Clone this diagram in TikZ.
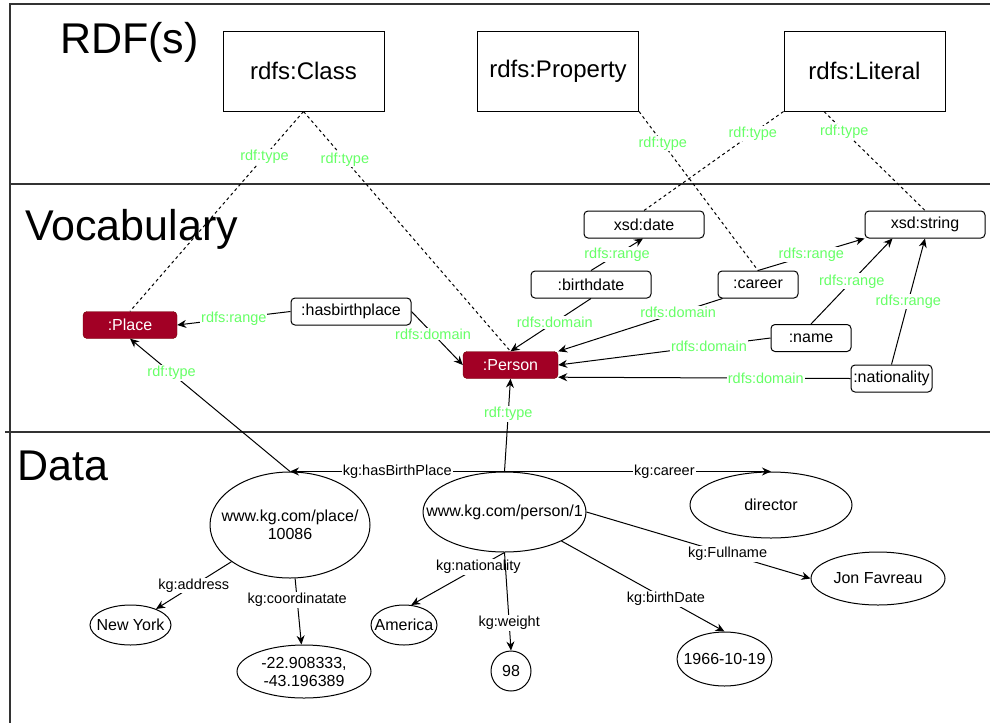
\documentclass[tikz,border=0pt]{standalone}
\usepackage{fontspec}
\setmainfont{Liberation Sans}
\usetikzlibrary{shapes.geometric,arrows.meta,calc}

\definecolor{crimson}{HTML}{A20025}
\definecolor{crimsonedge}{HTML}{6F0000}
\definecolor{lblgreen}{HTML}{66FF66}
\definecolor{framegray}{HTML}{333333}

\newcommand\fsz[2]{\fontsize{#1}{#2}\selectfont}

\tikzset{
  frameline/.style={draw=framegray, line width=1.1pt},
  heading/.style={font=\fsz{43}{48}, anchor=base west, inner sep=0pt},
  bigbox/.style={draw, line width=1pt, minimum width=161pt, minimum height=80pt,
                 font=\fsz{24}{28}, inner sep=0pt},
  term/.style={draw, fill=white, rounded corners=4pt, line width=1pt, minimum height=27pt,
               font=\fsz{16}{18}, inner sep=1pt},
  klass/.style={fill=crimson, draw=crimsonedge, text=white, rounded corners=4pt,
                minimum height=27pt, font=\fsz{16}{18}, inner sep=1pt},
  ent/.style={ellipse, draw, line width=1pt, inner sep=0pt},
  enttext/.style={font=\fsz{16}{18}, align=center, inner sep=0pt},
  link/.style={line width=1pt, -{Stealth[length=9pt,width=8pt]}},
  typelink/.style={line width=1pt, dash pattern=on 3pt off 3pt},
  glabel/.style={font=\fsz{14.5}{16}, text=lblgreen, fill=white, inner sep=1pt},
  klabel/.style={font=\fsz{14.5}{16}, fill=white, inner sep=1pt},
}

\begin{document}
\begin{tikzpicture}[x=1pt, y=-1pt]
\useasboundingbox (0,0) rectangle (990,723);

% layer frame
\draw[frameline] (990,4) -- (10,4) -- (10,723);
\draw[frameline] (10,184) -- (990,184);
\draw[frameline] (5,432) -- (990,432);

% layer headings
\node[heading] (hrdf)  at (60,53)  {RDF(s)};
\node[heading] (hvoc)  at (25,240) {Vocabulary};
\node[heading] (hdata) at (17,480) {Data};

% RDF(s) layer
\node[bigbox] (cls)  at (303.5,71) {rdfs:Class};
\node[bigbox] (prop) at (558,71)   {rdfs:Property};
\node[bigbox] (lit)  at (864.5,71) {rdfs:Literal};

% vocabulary layer
\node[klass, minimum width=94pt] (place)  at (130,325)   {:Place};
\node[klass, minimum width=95pt] (person) at (510.5,365) {:Person};
\node[term, minimum width=120pt] (hbp)    at (351,311.5) {:hasbirthplace};
\node[term, minimum width=120pt] (xdate)  at (644,224.5) {xsd:date};
\node[term, minimum width=120pt] (bdate)  at (591,284.5) {:birthdate};
\node[term, minimum width=80pt]  (career) at (758,284.5) {:career};
\node[term, minimum width=120pt] (xstr)   at (925,224.5) {xsd:string};
\node[term, minimum width=80pt]  (name)   at (811,338)   {:name};
\node[term, minimum width=81pt]  (nat)    at (891.5,378.5) {:nationality};

% data layer
\node[ent, minimum width=160pt, minimum height=106pt] (plc)  at (290,525)   {};
\node[ent, minimum width=81pt,  minimum height=40pt]  (ny)   at (130.5,625) {};
\node[ent, minimum width=134pt, minimum height=53pt]  (geo)  at (304,671.5) {};
\node[ent, minimum width=66pt,  minimum height=40pt]  (amer) at (404,625)   {};
\node[ent, minimum width=163pt, minimum height=80pt]  (pers) at (504.5,512) {};
\node[ent, minimum width=40pt,  minimum height=40pt]  (wt)   at (511,671)   {};
\node[ent, minimum width=162pt, minimum height=66pt]  (dir)  at (771,505)   {};
\node[ent, minimum width=134pt, minimum height=53pt]  (jon)  at (878,578.5) {};
\node[ent, minimum width=95pt,  minimum height=54pt]  (dob)  at (724.5,659) {};

\node[enttext] (plc-t)  at (plc)  {www.kg.com/place/\\10086};
\node[enttext] (ny-t)   at (ny)   {New York};
\node[enttext] (geo-t)  at (geo)  {-22.908333,\\-43.196389};
\node[enttext] (amer-t) at (amer) {America};
\node[enttext] (pers-t) at (pers) {www.kg.com/person/1};
\node[enttext] (wt-t)   at (wt)   {98};
\node[enttext] (dir-t)  at (dir)  {director};
\node[enttext] (jon-t)  at (jon)  {Jon Favreau};
\node[enttext] (dob-t)  at (dob)  {1966-10-19};

% rdf:type links from the vocabulary to RDF(s)
\draw[typelink] (cls.south) -- node[glabel, pos=0.225] {rdf:type} (place.north);
\draw[typelink] (cls.south) -- node[glabel, pos=0.2] {rdf:type} (person.north);
\draw[typelink] (prop.south east) -- node[glabel, pos=0.2] {rdf:type} (career.north);
\draw[typelink] (lit.south west) -- node[glabel, pos=0.22] {rdf:type} (xdate.north);
\draw[typelink] ($(lit.south west)!0.25!(lit.south east)$) -- node[glabel, pos=0.2] {rdf:type} (xstr.north);

% domains and ranges
\draw[link] (hbp.west) -- node[glabel] {rdfs:range} (place.east);
\draw[link] (hbp.east) -- node[glabel, pos=0.42] {rdfs:domain} (person.west);
\draw[link] (bdate.north) -- node[glabel] {rdfs:range} ($(xdate.south)+(-1,0)$);
\draw[link] (bdate.south) -- node[glabel, pos=0.45] {rdfs:domain} (person.north);
\draw[link] ($(career.south west)+(5,0)$) -- node[glabel, pos=0.27] {rdfs:domain} (person.north east);
\draw[link] (career.north) -- node[glabel] {rdfs:range} (xstr.south west);
\draw[link] (name.north) -- node[glabel] {rdfs:range} ($(xstr.south west)+(28,0)$);
\draw[link] (name.west) -- node[glabel, pos=0.29] {rdfs:domain} (person.east);
\draw[link] (nat.north) -- node[glabel] {rdfs:range} (xstr.south);
\draw[link] (nat.west) -- node[glabel, pos=0.29] {rdfs:domain} ($(person.south east)+(0,-1.5)$);

% instances typed by classes
\draw[link] (pers.north) -- node[glabel, pos=0.62] {rdf:type} (person.south);
\draw[link] (plc.north) -- node[glabel, pos=0.74] {rdf:type} (place.south);

% data triples
\draw[link] (pers.north) -- node[klabel] {kg:hasBirthPlace} (plc.north);
\draw[link] (pers.north) -- node[klabel, pos=0.6] {kg:career} (dir.north);
\draw[link] (plc) -- node[klabel] {kg:address} (ny);
\draw[link] (plc) -- node[klabel, pos=0.33] {kg:coordinatate} (geo);
\draw[link] (pers.south) -- node[klabel, pos=0.28] {kg:nationality} (amer.70);
\draw[link] (pers.south) -- node[klabel, pos=0.72] {kg:weight} (wt.north);
\draw[link] (pers.east) -- node[klabel, pos=0.63] {kg:Fullname} (jon.west);
\draw[link] (pers.333) -- node[klabel, pos=0.64] {kg:birthDate} (dob.north);
\end{tikzpicture}
\end{document}
